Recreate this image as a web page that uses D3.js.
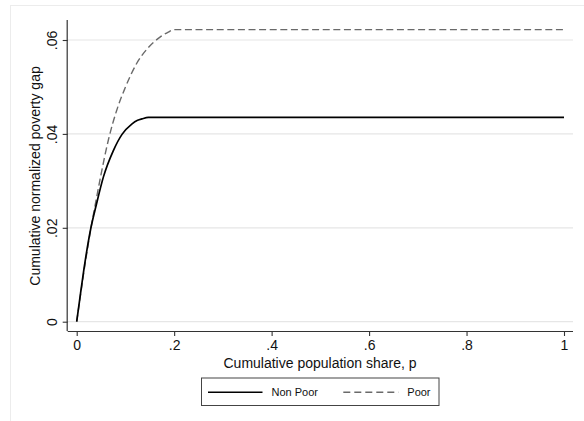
<!DOCTYPE html>
<html><head><meta charset="utf-8">
<script src="https://cdn.jsdelivr.net/npm/d3@7"></script>
<style>
html,body{margin:0;padding:0;background:#fff;}
text{font-family:"Liberation Sans",Arial,sans-serif;fill:#111;}
</style></head>
<body>
<svg id="c" width="584" height="421"></svg>
<script>
// Data
const pNonPoor = [0, 0.006, 0.015, 0.029, 0.040, 0.055, 0.075, 0.093, 0.113, 0.125, 0.134, 0.147, 1];
const vNonPoor = [0, 0.0046, 0.0113, 0.0199, 0.0248, 0.0309, 0.0364, 0.0399, 0.0421, 0.0429, 0.0432, 0.0435, 0.0435];
const pPoor = [0, 0.006, 0.015, 0.029, 0.040, 0.050, 0.065, 0.082, 0.099, 0.123, 0.147, 0.171, 0.188, 0.200, 1];
const vPoor = [0, 0.0044, 0.0108, 0.0198, 0.0260, 0.0314, 0.0387, 0.0450, 0.0497, 0.0550, 0.0584, 0.0606, 0.0617, 0.0622, 0.0622];
const xTicks = [0, 0.2, 0.4, 0.6, 0.8, 1];
const xTickLabels = ["0", ".2", ".4", ".6", ".8", "1"];
const yTicks = [0, 0.02, 0.04, 0.06];
const yTickLabels = ["0", ".02", ".04", ".06"];
const seriesNames = ["Non Poor", "Poor"];
const xTitle = "Cumulative population share, p";
const yTitle = "Cumulative normalized poverty gap";

const svg = d3.select("#c");
// outer faint frame
svg.append("rect").attr("x",10.5).attr("y",5.5).attr("width",620).attr("height",500)
  .attr("fill","none").attr("stroke","#ececec").attr("stroke-width",1);

const x = d3.scaleLinear().domain([0,1]).range([76.7,564]);
const y = d3.scaleLinear().domain([0,0.06]).range([321.7,40]);
const axisX0 = 67.7, axisX1 = 573, axisY0 = 331, axisTop = 20;

// gridlines
svg.append("g").selectAll("line").data(yTicks).join("line")
  .attr("x1",axisX0).attr("x2",axisX1)
  .attr("y1",d=>y(d)).attr("y2",d=>y(d))
  .attr("stroke","#e6e6e6").attr("stroke-width",1.2);

// axes
const gx = svg.append("g").attr("transform",`translate(0,${axisY0})`)
  .call(d3.axisBottom(x).tickValues(xTicks).tickFormat((d,i)=>xTickLabels[i]).tickSize(5).tickPadding(4).tickSizeOuter(0));
gx.select(".domain").attr("d",`M${axisX0},0.5H${axisX1}`);
const gy = svg.append("g").attr("transform",`translate(${axisX0},0)`)
  .call(d3.axisLeft(y).tickValues(yTicks).tickFormat((d,i)=>yTickLabels[i]).tickSize(5).tickSizeOuter(0));
gy.select(".domain").attr("d",`M-0.5,${axisTop}V${axisY0}`);
[gx,gy].forEach(g=>{
  g.selectAll(".domain").attr("stroke","#333").attr("stroke-width",1.2);
  g.selectAll(".tick line").attr("stroke","#333").attr("stroke-width",1.1);
  g.selectAll(".tick text").attr("font-size",14).attr("font-family","Liberation Sans, Arial").attr("fill","#111");
});
gy.selectAll(".tick text")
  .attr("text-anchor","middle")
  .attr("x",0).attr("y",0).attr("dy",0)
  .attr("transform","translate(-11,0) rotate(-90)");

// titles
svg.append("text").attr("x",320).attr("y",368).attr("text-anchor","middle")
  .attr("font-size",14).text(xTitle);
svg.append("text").attr("transform","translate(40,176) rotate(-90)").attr("text-anchor","middle")
  .attr("font-size",14).text(yTitle);

// lines
const line = d3.line().x(d=>x(d[0])).y(d=>y(d[1])).curve(d3.curveMonotoneX);
svg.append("path").datum(pPoor.map((p,i)=>[p,vPoor[i]]))
  .attr("d",line).attr("fill","none").attr("stroke","#6a6a6a").attr("stroke-width",1.4)
  .attr("stroke-dasharray","7,3.6");
svg.append("path").datum(pNonPoor.map((p,i)=>[p,vNonPoor[i]]))
  .attr("d",line).attr("fill","none").attr("stroke","#000").attr("stroke-width",1.7);

// legend
const lg = svg.append("g");
lg.append("rect").attr("x",201.5).attr("y",378).attr("width",237.5).attr("height",27.5)
  .attr("fill","#fff").attr("stroke","#444").attr("stroke-width",1);
lg.append("line").attr("x1",208).attr("x2",262.5).attr("y1",392.3).attr("y2",392.3)
  .attr("stroke","#000").attr("stroke-width",1.4);
lg.append("text").attr("x",271.5).attr("y",396).attr("font-size",11).text(seriesNames[0]);
lg.append("line").attr("x1",343.3).attr("x2",398.5).attr("y1",392.3).attr("y2",392.3)
  .attr("stroke","#6a6a6a").attr("stroke-width",1.4).attr("stroke-dasharray","7,4");
lg.append("text").attr("x",407.3).attr("y",396).attr("font-size",11).text(seriesNames[1]);
</script>
</body></html>
